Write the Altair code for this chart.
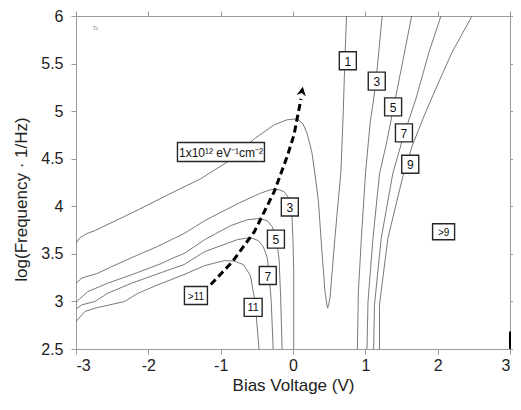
import altair as alt
import pandas as pd

# ---------------- data ----------------
curve_1_x = [-3.000, -2.945, -2.849, -2.740, -2.137, -1.726, -1.274, -0.904, -0.534, -0.260,
             -0.082, 0.055, 0.137, 0.192, 0.260, 0.305, 0.352, 0.397, 0.442, 0.466,
             0.479, 0.493, 0.511, 0.579, 0.662, 0.695, 0.716, 0.740]
curve_1_y = [3.611, 3.671, 3.713, 3.744, 3.964, 4.122, 4.290, 4.468, 4.709, 4.856,
             4.909, 4.919, 4.867, 4.772, 4.573, 4.332, 4.048, 3.555, 3.104, 2.978,
             2.929, 2.967, 3.034, 3.663, 4.363, 4.993, 5.517, 6.000]

curve_3l_x = [-3.000, -2.918, -2.699, -2.507, -2.164, -1.877, -1.507, -1.219, -0.767, -0.466,
              -0.315, -0.192, -0.123, -0.041, -0.014, 0.000, 0.010, 0.010]
curve_3l_y = [3.191, 3.246, 3.296, 3.366, 3.482, 3.576, 3.713, 3.849, 4.027, 4.132,
              4.174, 4.174, 4.153, 4.069, 3.891, 3.629, 3.314, 2.500]

curve_5l_x = [-3.000, -2.836, -2.562, -2.151, -1.822, -1.644, -1.507, -1.219, -0.863, -0.630,
              -0.466, -0.356, -0.288, -0.233, -0.192, -0.171, -0.151]
curve_5l_y = [2.992, 3.104, 3.191, 3.303, 3.398, 3.461, 3.503, 3.650, 3.796, 3.859,
              3.870, 3.849, 3.786, 3.681, 3.440, 3.051, 2.500]

curve_7l_x = [-3.000, -2.918, -2.740, -2.562, -2.233, -1.822, -1.507, -1.219, -0.767, -0.589,
              -0.479, -0.411, -0.356, -0.329, -0.301, -0.274]
curve_7l_y = [2.922, 2.964, 2.999, 3.086, 3.191, 3.303, 3.387, 3.524, 3.650, 3.671,
              3.639, 3.576, 3.461, 3.261, 2.999, 2.500]

curve_11l_x = [-3.000, -2.877, -2.740, -2.329, -2.151, -1.877, -1.507, -1.219, -0.945, -0.808,
               -0.685, -0.589, -0.538, -0.507, -0.470]
curve_11l_y = [2.789, 2.894, 2.929, 2.999, 3.083, 3.172, 3.282, 3.377, 3.429, 3.424,
               3.387, 3.272, 3.051, 2.842, 2.500]

curve_3r_x = [1.233, 1.192, 1.151, 1.110, 1.068, 1.004, 0.945, 0.904, 0.890]
curve_3r_y = [6.000, 5.675, 5.342, 5.098, 4.888, 4.363, 3.660, 3.104, 2.500]

curve_5r_x = [1.640, 1.516, 1.425, 1.288, 1.196, 1.105, 1.037, 1.023]
curve_5r_y = [6.000, 5.517, 5.171, 4.646, 4.342, 3.660, 2.999, 2.500]

curve_7r_x = [2.045, 1.881, 1.699, 1.516, 1.379, 1.219, 1.127, 1.114]
curve_7r_y = [6.000, 5.622, 5.129, 4.709, 4.342, 3.660, 2.967, 2.500]

curve_9r_x = [2.475, 2.201, 1.973, 1.836, 1.653, 1.521, 1.311, 1.196, 1.196]
curve_9r_y = [6.000, 5.622, 5.234, 4.993, 4.646, 4.321, 3.660, 2.967, 2.500]

arrow_x = [-1.137, -0.836, -0.534, -0.260, -0.082, 0.014, 0.110]
arrow_y = [3.177, 3.419, 3.733, 4.153, 4.520, 4.751, 5.129]
arrow_head_x = [0.123]
arrow_head_y = [5.203]

label_text = ["1", "3", "5", "7", "9", ">9", "3", "5", "7", "11", ">11",
              "1x10¹² eV⁻¹cm⁻²"]
label_x = [0.758, 1.158, 1.384, 1.534, 1.621, 2.082, -0.044, -0.236, -0.349, -0.551, -1.342, -0.996]
label_y = [5.530, 5.315, 5.045, 4.772, 4.442, 3.733, 3.993, 3.655, 3.272, 2.938, 3.062, 4.570]

x_ticks = [-3, -2, -1, 0, 1, 2, 3]
y_ticks = [2.5, 3, 3.5, 4, 4.5, 5, 5.5, 6]

# ---------------- build tables ----------------
curves = {
    "1": (curve_1_x, curve_1_y),
    "3L": (curve_3l_x, curve_3l_y),
    "5L": (curve_5l_x, curve_5l_y),
    "7L": (curve_7l_x, curve_7l_y),
    "11L": (curve_11l_x, curve_11l_y),
    "3R": (curve_3r_x, curve_3r_y),
    "5R": (curve_5r_x, curve_5r_y),
    "7R": (curve_7r_x, curve_7r_y),
    "9R": (curve_9r_x, curve_9r_y),
}
rows = []
for name, (xs_, ys_) in curves.items():
    for i, (a, b) in enumerate(zip(xs_, ys_)):
        rows.append({"curve": name, "i": i, "x": a, "y": b})
df = pd.DataFrame(rows)

arrow_df = pd.DataFrame({"x": arrow_x, "y": arrow_y, "i": list(range(len(arrow_x)))})
head_df = pd.DataFrame({"x": arrow_head_x, "y": arrow_head_y})

FONT = "Liberation Sans"
AX = "#9a9a9a"
xs = alt.Scale(domain=[-3, 3], nice=False, zero=False)
ys = alt.Scale(domain=[2.5, 6], nice=False, zero=False)

x_axis = alt.Axis(title="Bias Voltage (V)", values=x_ticks, labelExpr="'' + datum.value",
                  grid=False, domainColor=AX, tickColor=AX, tickSize=5,
                  labelFont=FONT, labelFontSize=16, labelColor="#222", labelPadding=3,
                  titleFont=FONT, titleFontSize=17, titleFontWeight="normal", titleColor="#222",
                  titleBaseline="top", titleY=28)
y_axis = alt.Axis(title="log(Frequency · 1/Hz)", values=y_ticks, labelExpr="'' + datum.value",
                  grid=False, domainColor=AX, tickColor=AX, tickSize=5,
                  labelFont=FONT, labelFontSize=16, labelColor="#222", labelPadding=8,
                  titleFont=FONT, titleFontSize=17, titleFontWeight="normal", titleColor="#222",
                  titleX=-55, titleY=183, titleAlign="center", titleBaseline="middle", titleAngle=-90)
top_axis = alt.Axis(orient="top", title=None, values=x_ticks, labels=False, grid=False,
                    domainColor=AX, tickColor=AX, tickSize=5)
right_axis = alt.Axis(orient="right", title=None, values=y_ticks, labels=False, grid=False,
                      domainColor=AX, tickColor=AX, tickSize=4)


def X(field="x:Q"):
    return alt.X(field, scale=xs, axis=None)


def Y(field="y:Q"):
    return alt.Y(field, scale=ys, axis=None)


lines = alt.Chart(df).mark_line(color="#6a6a6a", strokeWidth=0.9, clip=True).encode(
    x=alt.X("x:Q", scale=xs, axis=x_axis),
    y=alt.Y("y:Q", scale=ys, axis=y_axis),
    detail="curve:N",
    order="i:Q",
)

frame = alt.Chart(pd.DataFrame({"x": [3], "y": [2.5], "y2": [2.684]})).mark_rule(
    color="black", strokeWidth=2).encode(
    x=alt.X("x:Q", scale=xs, axis=top_axis),
    y=alt.Y("y:Q", scale=ys, axis=right_axis),
    y2="y2:Q",
)

tc = alt.Chart(pd.DataFrame({"x": [-2.73], "y": [5.874], "t": ["Tc"]})).mark_text(
    font=FONT, fontSize=6, color="#999").encode(x=X(), y=Y(), text="t:N")

arrow = alt.Chart(arrow_df).mark_line(color="black", strokeWidth=3, strokeDash=[7, 4]).encode(
    x=X(), y=Y(), order="i:Q")
head = alt.Chart(head_df).mark_point(
    shape="M0,-1L0.9,0.75L0,0.25L-0.9,0.75Z", filled=True, color="black", opacity=1,
    size=110, angle=10).encode(x=X(), y=Y())

layers = [lines, frame, tc, arrow, head]
for t, lx, ly in zip(label_text, label_x, label_y):
    if len(t) > 4:
        w, h, fs = 87, 19, 12
    elif t.startswith(">"):
        w, h, fs = (23, 18, 10) if len(t) == 3 else (22, 16, 10)
    elif len(t) == 2:
        w, h, fs = 18, 18, 11
    else:
        w, h, fs = 17, 18, 12
    a = w / h
    path = f"M{-a},-1H{a}V1H{-a}Z"
    d = pd.DataFrame({"x": [lx], "y": [ly], "t": [t]})
    box = alt.Chart(d).mark_point(shape=path, size=h * h, filled=False, fill="white",
                                  fillOpacity=1, stroke="#262626", strokeWidth=1.4,
                                  opacity=1).encode(x=X(), y=Y())
    txt = alt.Chart(d).mark_text(font=FONT, fontSize=fs, color="#111", baseline="middle",
                                 align="center", dy=1).encode(x=X(), y=Y(), text="t:N")
    layers += [box, txt]

chart = alt.layer(*layers).resolve_axis(x="independent", y="independent").properties(
    width=434, height=333,
    autosize=alt.AutoSizeParams(type="none"),
    padding={"left": 68, "top": 8, "right": 3, "bottom": 46},
    background="white",
).configure_view(stroke=None)

chart.save("out.html", embed_options={"renderer": "svg", "actions": False})
